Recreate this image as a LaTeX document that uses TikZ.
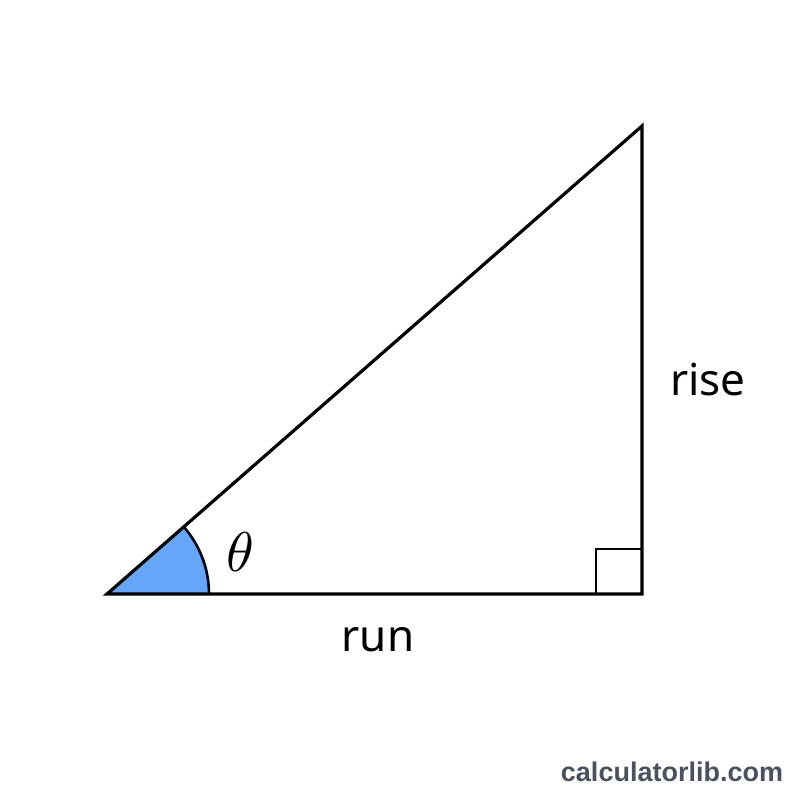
\documentclass[tikz,border=0pt]{standalone}
\usepackage{fontspec}
\setmainfont{Noto Sans}
\newfontfamily\wmfont{Liberation Sans}
\definecolor{fillblue}{HTML}{66A6F8}
\definecolor{wmgray}{HTML}{4A505E}
\begin{document}
\begin{tikzpicture}[x=1pt,y=-1pt,
  edge/.style={line width=3.2pt,line join=miter,black},
  lbl/.style={font=\fontsize{44}{50}\selectfont,inner sep=0pt}]
\useasboundingbox[fill=white] (0,0) rectangle (800,800);
\coordinate (A) at (107,594);
\coordinate (B) at (642,594);
\coordinate (C) at (642,126);
\fill[fillblue] (A) -- (209,594) arc[start angle=0,end angle=-41.18,radius=102] -- cycle;
\draw[line width=2.6pt] (209,594) arc[start angle=0,end angle=-41.18,radius=102];
\draw[line width=2.6pt] (596,594) -- (596,549) -- (642,549);
\draw[edge] (A) -- (B) -- (C) -- cycle;
\node[inner sep=0pt,scale=5.6] (theta) at (240,552) {$\theta$};
\node[lbl] (rise) at (708,380) {rise};
\node[lbl] (run) at (378,640) {run};
\node[inner sep=0pt,text=wmgray,font=\wmfont\bfseries\fontsize{27}{32}\selectfont] (wm) at (672,772) {calculatorlib.com};
\end{tikzpicture}
\end{document}
